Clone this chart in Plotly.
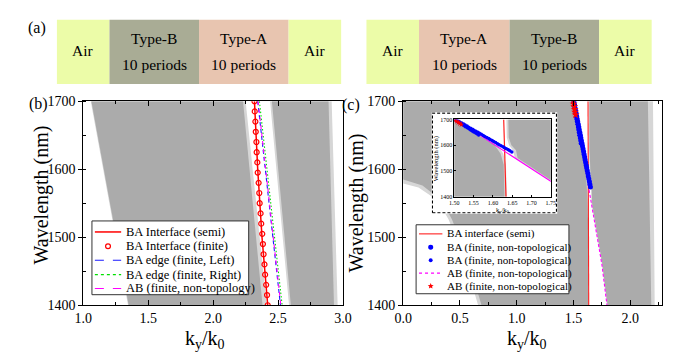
import math
import plotly.graph_objects as go

W, H = 677, 356
def px(x): return x / W
def py(y): return 1 - y / H

FONT = "Liberation Serif"
GRAY = "#ababab"
LIGHT = "#d6d6d6"

# ---------------- (a) schematic ----------------
left_layers = ["Air", "Type-B", "Type-A", "Air"]
right_layers = ["Air", "Type-A", "Type-B", "Air"]
layer_colors = {"Air": "#ecfca8", "Type-B": "#a9ac95", "Type-A": "#e8c5b0"}
period_label = "10 periods"

# ---------------- (b) data ----------------
b_band_wl = [1700, 1700, 1400, 1400]
b_gray1_k = [1.063, 2.230, 2.380, 1.350]
b_gray1_fringe_k = [1.058, 2.250, 2.412, 1.345]
b_gray2_k = [2.452, 2.888, 2.930, 2.598]
b_gray2_fringe_k = [2.438, 2.912, 2.958, 2.584]

b_semi_wl = [1700, 1600, 1500, 1400]
b_semi_k = [2.318, 2.343, 2.376, 2.420]
b_fin_wl = [1700, 1685, 1670, 1655, 1640, 1625, 1610, 1595, 1580, 1565, 1550,
            1535, 1520, 1505, 1490, 1475, 1460, 1445, 1430, 1415, 1400]
b_fin_k = [2.318, 2.320, 2.325, 2.328, 2.333, 2.335, 2.340, 2.343, 2.350, 2.355, 2.358,
           2.365, 2.370, 2.378, 2.383, 2.388, 2.395, 2.400, 2.408, 2.415, 2.420]
b_edge_wl = [1700, 1550, 1400]
b_left_k = [2.343, 2.428, 2.518]
b_right_k = [2.356, 2.441, 2.531]
b_ab_k = [2.346, 2.431, 2.521]
legend_b_names = ["BA Interface (semi)", "BA Interface (finite)", "BA edge (finite, Left)",
                  "BA edge (finite, Right)", "AB (finite, non-topology)"]

# ---------------- (c) data ----------------
c_lgray_k = [0, 1.490, 1.502, 1.565, 1.603, 1.620, 1.628, 1.630, 0.690, 0.600, 0.510, 0.430, 0.340, 0.170, 0]
c_lgray_wl = [1700, 1700, 1691, 1636, 1604, 1567, 1524, 1400, 1400, 1451, 1493, 1526, 1554, 1576, 1585]
c_lgray_fringe_k = [0, 1.490, 1.507, 1.571, 1.611, 1.627, 1.634, 1.636, 0.660, 0.570, 0.480, 0.400, 0.305, 0.135, 0]
c_lgray_fringe_wl = [1700, 1700, 1691, 1636, 1604, 1567, 1524, 1400, 1400, 1451, 1493, 1526, 1554, 1573, 1579]

c_rgray_k = [1.640, 2.155, 2.185, 1.800, 1.755, 1.716, 1.664, 1.660, 1.648, 1.641]
c_rgray_wl = [1700, 1700, 1400, 1400, 1460, 1500, 1550, 1580, 1600, 1630]
c_rgray_fringe_k = [1.635, 2.200, 2.215, 1.795, 1.750, 1.711, 1.657, 1.652, 1.642, 1.636]

c_semi_wl = [1700, 1400]
c_semi_k = [1.628, 1.634]

c_ba1_wl = [1698, 1694, 1690, 1686, 1682, 1678, 1674, 1670, 1666, 1662, 1658, 1654, 1650, 1646, 1642, 1638,
            1634, 1630, 1626, 1622, 1618, 1614, 1610, 1606, 1602, 1598, 1594, 1590, 1586, 1582, 1578, 1574]
c_ba1_k = [1.505, 1.510, 1.514, 1.519, 1.524, 1.528, 1.533, 1.537, 1.542, 1.547, 1.551, 1.556, 1.561, 1.565, 1.570, 1.575,
           1.579, 1.584, 1.589, 1.593, 1.598, 1.602, 1.607, 1.612, 1.616, 1.621, 1.626, 1.630, 1.635, 1.640, 1.644, 1.649]
c_ba2_wl = [1698, 1694, 1690, 1686, 1682, 1678, 1674, 1670, 1666, 1662, 1658, 1654, 1650, 1646, 1642, 1638]
c_ba2_k = [1.500, 1.504, 1.508, 1.513, 1.517, 1.521, 1.525, 1.529, 1.534, 1.538, 1.542, 1.546, 1.550, 1.555, 1.559, 1.563]
c_ab_line_wl = [1700, 1600, 1500, 1460, 1400]
c_ab_line_k = [1.503, 1.607, 1.711, 1.750, 1.795]
c_ab_star_wl = [1700, 1696, 1692, 1688, 1684, 1680]
c_ab_star_k = [1.497, 1.501, 1.506, 1.510, 1.514, 1.518]
legend_c_names = ["BA interface (semi)", "BA (finite, non-topological)", "BA (finite, non-topological)",
                  "AB (finite, non-topological)", "AB (finite, non-topological)"]

frame_u = [0, 1, 1, 0, 0]
frame_v = [0, 0, 1, 1, 0]

fig = go.Figure()

def poly(k, wl, color, xa, ya):
    fig.add_trace(go.Scatter(x=k, y=wl, mode="lines", fill="toself", fillcolor=color,
                             line=dict(width=0, color=color), hoverinfo="skip",
                             showlegend=False, xaxis=xa, yaxis=ya))

# ---- panel b ----
poly(b_gray1_fringe_k, b_band_wl, LIGHT, "x", "y")
poly(b_gray2_fringe_k, b_band_wl, LIGHT, "x", "y")
poly(b_gray1_k, b_band_wl, GRAY, "x", "y")
poly(b_gray2_k, b_band_wl, GRAY, "x", "y")

B_STYLE = [
    dict(kind="line", color="#ff0000", width=1.5, dash="solid"),
    dict(kind="ocircle", color="#ff0000", r=2.5),
    dict(kind="line", color="#1a1aff", width=1.1, dash="dash"),
    dict(kind="line", color="#00e000", width=1.1, dash="dot"),
    dict(kind="line", color="#ff00ff", width=1.1, dash="dash"),
]
fig.add_trace(go.Scatter(x=b_semi_k, y=b_semi_wl, mode="lines", name=legend_b_names[0],
                         line=dict(color="#ff0000", width=1.5), showlegend=False))
fig.add_trace(go.Scatter(x=b_fin_k, y=b_fin_wl, mode="markers", name=legend_b_names[1],
                         marker=dict(symbol="circle-open", color="#ff0000", size=5, line=dict(width=1.2)),
                         showlegend=False))
fig.add_trace(go.Scatter(x=b_left_k, y=b_edge_wl, mode="lines", name=legend_b_names[2],
                         line=dict(color="#1a1aff", width=1.1, dash="4px,3px"), showlegend=False))
fig.add_trace(go.Scatter(x=b_right_k, y=b_edge_wl, mode="lines", name=legend_b_names[3],
                         line=dict(color="#00e000", width=1.1, dash="1.5px,2px"), showlegend=False))
fig.add_trace(go.Scatter(x=b_ab_k, y=b_edge_wl, mode="lines", name=legend_b_names[4],
                         line=dict(color="#ff00ff", width=1.1, dash="4px,4px"), showlegend=False))

# ---- panel c (main + inset share the data) ----
def panel_c(xa, ya, main):
    poly(c_lgray_fringe_k, c_lgray_fringe_wl, LIGHT, xa, ya)
    poly(c_rgray_fringe_k, c_rgray_wl, LIGHT, xa, ya)
    poly(c_lgray_k, c_lgray_wl, GRAY, xa, ya)
    poly(c_rgray_k, c_rgray_wl, GRAY, xa, ya)
    sc = 1.0 if main else 0.7
    fig.add_trace(go.Scatter(x=c_semi_k, y=c_semi_wl, mode="lines", name=legend_c_names[0],
                             line=dict(color="#ff2020", width=1.1 if main else 1.2),
                             showlegend=False, xaxis=xa, yaxis=ya))
    fig.add_trace(go.Scatter(x=c_ab_line_k, y=c_ab_line_wl, mode="lines", name=legend_c_names[3],
                             line=dict(color="#ff00ff", width=1.1, dash="3px,2px" if main else "solid"),
                             showlegend=False, xaxis=xa, yaxis=ya))
    fig.add_trace(go.Scatter(x=c_ba1_k, y=c_ba1_wl, mode="markers", name=legend_c_names[1],
                             marker=dict(symbol="circle", color="#0000ff", size=5 * sc),
                             showlegend=False, xaxis=xa, yaxis=ya))
    fig.add_trace(go.Scatter(x=c_ba2_k, y=c_ba2_wl, mode="markers", name=legend_c_names[2],
                             marker=dict(symbol="circle", color="#0000ff", size=4 * sc),
                             showlegend=False, xaxis=xa, yaxis=ya))
    fig.add_trace(go.Scatter(x=c_ab_star_k, y=c_ab_star_wl, mode="markers", name=legend_c_names[4],
                             marker=dict(symbol="star", color="#ff0000", size=6 * sc),
                             showlegend=False, xaxis=xa, yaxis=ya))

panel_c("x2", "y2", True)
C_STYLE = [
    dict(kind="line", color="#ff2020", width=1.1, dash="solid"),
    dict(kind="dot", color="#0000ff", r=2.6),
    dict(kind="dot", color="#0000ff", r=2.0),
    dict(kind="line", color="#ff00ff", width=1.1, dash="dot"),
    dict(kind="star", color="#ff0000", r=3.2),
]

# inset frame (white box with dashed border)
fig.add_trace(go.Scatter(x=frame_u, y=frame_v, mode="lines", fill="toself", fillcolor="white",
                         line=dict(color="black", width=1.2, dash="3px,2px"), hoverinfo="skip",
                         showlegend=False, xaxis="x3", yaxis="y3"))
panel_c("x4", "y4", False)

# ---------------- layout ----------------
tickfont = dict(family=FONT, size=14, color="black")
def main_x(domain, rng, anchor):
    return dict(domain=domain, range=rng, anchor=anchor, dtick=0.5, tick0=0, tickformat=".1f",
                showgrid=False, zeroline=False, showline=True, linecolor="black", linewidth=1,
                mirror="allticks", ticks="inside", ticklen=5, tickcolor="black", tickfont=tickfont,
                minor=dict(dtick=0.25, ticks="inside", ticklen=3, tickcolor="black"))
def main_y(anchor):
    return dict(domain=[py(303), py(90)], range=[1400, 1700], anchor=anchor, dtick=100,
                showgrid=False, zeroline=False, showline=True, linecolor="black", linewidth=1,
                mirror=True, ticks="outside", ticklen=4, tickcolor="black", tickfont=tickfont,
                minor=dict(dtick=50, ticks="inside", ticklen=3, tickcolor="black"))

inset_font = dict(family=FONT, size=6, color="black")
layout = dict(
    width=W, height=H, margin=dict(l=0, r=0, t=0, b=0),
    paper_bgcolor="white", plot_bgcolor="white", showlegend=False,
    font=dict(family=FONT, color="black"),
    xaxis=main_x([px(68), px(335)], [1.0, 3.0], "y"),
    yaxis=main_y("x"),
    xaxis2=main_x([px(396.7), px(662.7)], [0, 2.28], "y2"),
    yaxis2=main_y("x2"),
    xaxis3=dict(domain=[px(426), px(555)], range=[-0.006, 1.006], anchor="y3", visible=False),
    yaxis3=dict(domain=[py(207.5), py(101.5)], range=[-0.01, 1.01], anchor="x3", visible=False),
    xaxis4=dict(domain=[px(449.3), px(548.3)], range=[1.5, 1.75], anchor="y4", dtick=0.05,
                tickformat=".2f", showgrid=False, zeroline=False, showline=True, linecolor="black",
                linewidth=0.8, mirror=True, ticks="inside", ticklen=2, tickcolor="black",
                tickfont=inset_font),
    yaxis4=dict(domain=[py(189.7), py(109)], range=[1400, 1700], anchor="x4", dtick=100,
                showgrid=False, zeroline=False, showline=True, linecolor="black",
                linewidth=0.8, mirror=True, ticks="inside", ticklen=2, tickcolor="black",
                tickfont=inset_font),
)
fig.update_layout(**layout)

shapes = []
annotations = []

# schematic
def schematic(x_edges, layers):
    for i, name in enumerate(layers):
        shapes.append(dict(type="rect", xref="paper", yref="paper", x0=px(x_edges[i]), x1=px(x_edges[i + 1]),
                           y0=py(72), y1=py(5), fillcolor=layer_colors[name], line=dict(width=0), layer="below"))
        cx = px((x_edges[i] + x_edges[i + 1]) / 2)
        if name == "Air":
            annotations.append(dict(x=cx, y=py(37), text=name))
        else:
            annotations.append(dict(x=cx, y=py(25), text=name))
            annotations.append(dict(x=cx, y=py(52), text=period_label))
schematic([41, 95, 187, 279, 333], left_layers)
schematic([359, 413, 506, 598, 652], right_layers)
for a in annotations:
    a.update(xref="paper", yref="paper", showarrow=False, xanchor="center", yanchor="middle",
             font=dict(family=FONT, size=15.5, color="black"))

# legends (box, keys, text)
def legend_box(x0, x1, y0, y1, rows, names, styles, key_x0, key_x1, text_x, fsize):
    shapes.append(dict(type="rect", xref="paper", yref="paper", x0=px(x0), x1=px(x1), y0=py(y1), y1=py(y0),
                       fillcolor="white", line=dict(color="#333333", width=1), layer="above"))
    cxk = (key_x0 + key_x1) / 2
    for yy, name, st in zip(rows, names, styles):
        if st["kind"] == "line":
            shapes.append(dict(type="line", xref="paper", yref="paper", x0=px(key_x0), x1=px(key_x1),
                               y0=py(yy), y1=py(yy), layer="above",
                               line=dict(color=st["color"], width=st["width"], dash=st["dash"])))
        elif st["kind"] in ("ocircle", "dot"):
            r = st["r"]
            shapes.append(dict(type="circle", xref="paper", yref="paper", x0=px(cxk - r), x1=px(cxk + r),
                               y0=py(yy + r), y1=py(yy - r), layer="above",
                               fillcolor=st["color"] if st["kind"] == "dot" else "rgba(0,0,0,0)",
                               line=dict(color=st["color"], width=1.2 if st["kind"] == "ocircle" else 0)))
        elif st["kind"] == "star":
            r = st["r"]
            pts = []
            for j in range(10):
                rr = r if j % 2 == 0 else r * 0.45
                ang = -math.pi / 2 + j * math.pi / 5
                pts.append((px(cxk + rr * math.cos(ang)), py(yy + rr * math.sin(ang))))
            path = "M " + " L ".join(f"{a:.5f},{b:.5f}" for a, b in pts) + " Z"
            shapes.append(dict(type="path", xref="paper", yref="paper", path=path, layer="above",
                               fillcolor=st["color"], line=dict(width=0)))
        annotations.append(dict(x=px(text_x), y=py(yy), text=name, xref="paper", yref="paper",
                                showarrow=False, xanchor="left", yanchor="middle",
                                font=dict(family=FONT, size=fsize, color="black")))

legend_box(77, 238, 215, 292, [226.5, 241.5, 256, 271, 285.5], legend_b_names, B_STYLE, 80, 107, 109.5, 12.5)
legend_box(410, 567, 219, 291, [228.5, 242.5, 256, 269.5, 283], legend_c_names, C_STYLE, 413, 437, 439.5, 11.1)

title_font = dict(family=FONT, size=20, color="black")
inset_title_font = dict(family=FONT, size=6.5, color="black")
extra = [
    dict(x=px(21), y=py(14), text="(a)", font=dict(family=FONT, size=16)),
    dict(x=px(22), y=py(93), text="(b)", font=dict(family=FONT, size=16)),
    dict(x=px(343), y=py(94), text="(c)", font=dict(family=FONT, size=16)),
    dict(x=px(25), y=py(188), text="Wavelength (nm)", textangle=-90, font=title_font),
    dict(x=px(349), y=py(196), text="Wavelength (nm)", textangle=-90, font=title_font),
    dict(x=px(193), y=py(339), text="k<sub>y</sub>/k<sub>0</sub>", font=title_font),
    dict(x=px(524), y=py(339), text="k<sub>y</sub>/k<sub>0</sub>", font=title_font),
    dict(x=px(430), y=py(150), text="Wavelength (nm)", textangle=-90, font=inset_title_font),
    dict(x=px(499), y=py(203.5), text="k<sub>y</sub>/k<sub>0</sub>", font=inset_title_font),
]
for a in extra:
    a.update(xref="paper", yref="paper", showarrow=False, xanchor="center", yanchor="middle")
annotations += extra
fig.update_layout(shapes=shapes, annotations=annotations)

fig.write_html("out.html")
